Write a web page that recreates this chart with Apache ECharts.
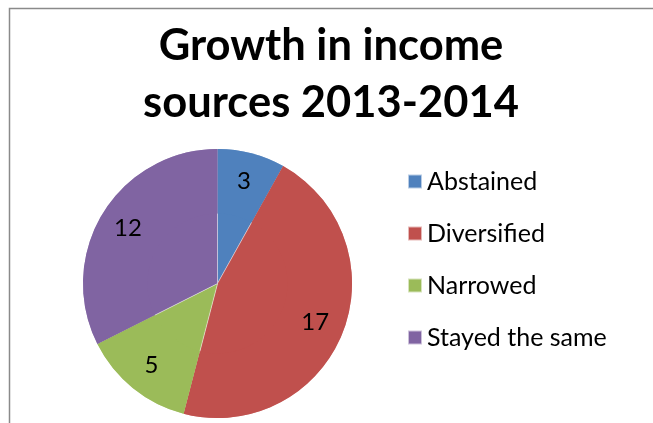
<!DOCTYPE html>
<html>
<head>
<meta charset="utf-8">
<style>
  html, body { margin: 0; padding: 0; background: #fff; }
  #chart { width: 653px; height: 423px; }
</style>
<script src="https://cdn.jsdelivr.net/npm/echarts@6/dist/echarts.min.js"></script>
</head>
<body>
<div id="chart"></div>
<script>
// Growth in income sources, 2013-2014
var categories = ['Abstained', 'Diversified', 'Narrowed', 'Stayed the same'];
var counts = [3, 17, 5, 12];
var sliceColors = ['#4F81BD', '#C0504D', '#9BBB59', '#8064A2'];
var chartTitle = 'Growth in income\nsources 2013-2014';

var FONT = 'Lato, "Open Sans", sans-serif';

var pieData = categories.map(function (name, i) {
  return { name: name, value: counts[i], itemStyle: { color: sliceColors[i] } };
});

var chart = echarts.init(document.getElementById('chart'), null, { renderer: 'canvas' });

chart.setOption({
  backgroundColor: '#ffffff',
  animation: false,
  title: {
    text: chartTitle,
    left: 331,
    top: 17,
    padding: 0,
    textAlign: 'center',
    textStyle: {
      fontFamily: FONT,
      fontWeight: 'bold',
      fontSize: 43.5,
      lineHeight: 57,
      color: '#000000'
    }
  },
  legend: {
    orient: 'vertical',
    left: 407,
    top: 169,
    padding: 0,
    itemWidth: 14,
    itemHeight: 14,
    itemGap: 27,
    icon: 'rect',
    data: categories,
    textStyle: {
      fontFamily: FONT,
      fontSize: 25,
      color: '#000000',
      padding: [0, 0, 0, 0]
    }
  },
  graphic: [{
    type: 'rect',
    shape: { x: 9.5, y: 8.5, width: 800, height: 600 },
    style: { fill: 'none', stroke: '#8a8a8a', lineWidth: 1.5 },
    silent: true,
    z: 0
  }],
  series: [
    {
      // filled slices
      type: 'pie',
      center: [217.5, 283.5],
      radius: [0, 134.5],
      startAngle: 90,
      clockwise: true,
      avoidLabelOverlap: false,
      data: pieData,
      itemStyle: { borderColor: 'rgba(255,255,255,0.6)', borderWidth: 0.6 },
      label: { show: false },
      labelLine: { show: false },
      emphasis: { disabled: true }
    },
    {
      // value labels placed at ~76% of the radius
      type: 'pie',
      center: [217.5, 283.5],
      radius: [70, 134.5],
      startAngle: 90,
      clockwise: true,
      silent: true,
      avoidLabelOverlap: false,
      data: pieData,
      itemStyle: { color: 'rgba(0,0,0,0)', borderWidth: 0 },
      label: {
        show: true,
        position: 'inside',
        formatter: '{c}',
        fontFamily: FONT,
        fontSize: 24,
        color: '#000000'
      },
      labelLine: { show: false },
      emphasis: { disabled: true }
    }
  ]
});
</script>
</body>
</html>
